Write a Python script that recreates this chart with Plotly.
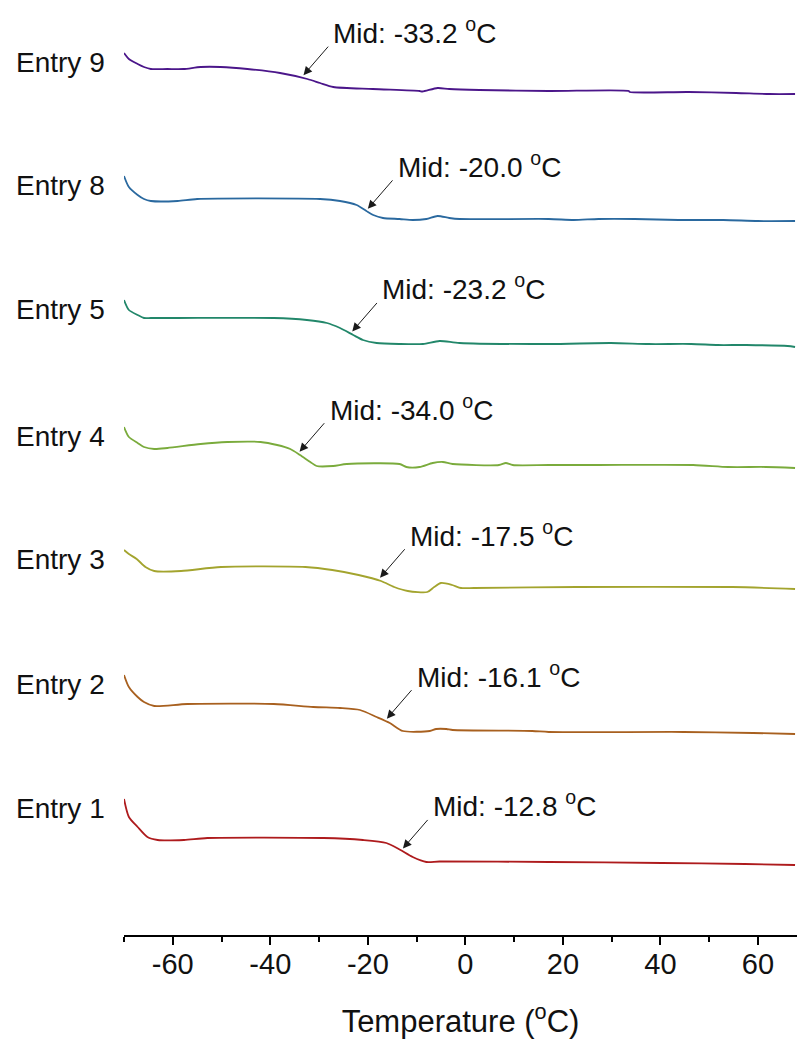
import numpy as np
import plotly.graph_objects as go

# DSC heating traces (temperature in degC, heat flow offset for stacking, a.u.)
entries = ["Entry 9", "Entry 8", "Entry 5", "Entry 4", "Entry 3", "Entry 2", "Entry 1"]
colors = ["#4b168a", "#2a699f", "#22876a", "#7aab3c", "#a3a42e", "#a8601f", "#ae1b1d"]
mid_temps = [-33.2, -20.0, -23.2, -34.0, -17.5, -16.1, -12.8]

t_e9 = [-70.0, -69.0, -67.2, -65.9, -64.5, -61.1, -57.8, -54.3, -50.2, -44.7, -38.0, -32.4,
        -29.8, -27.1, -19.0, -9.4, -8.8, -5.7, -3.3, 2.9, 17.1, 33.5, 33.7, 45.7, 55.5, 62.4, 67.6]
h_e9 = [8.82, 8.76, 8.71, 8.68, 8.66, 8.66, 8.66, 8.68, 8.68, 8.66, 8.62, 8.56,
        8.52, 8.48, 8.46, 8.44, 8.435, 8.47, 8.46, 8.45, 8.44, 8.44, 8.43, 8.43, 8.42, 8.41, 8.41]

t_e8 = [-70.0, -69.0, -67.2, -65.9, -64.5, -59.0, -55.0, -29.8, -25.7, -22.3, -20.3, -18.9,
        -16.9, -13.5, -10.8, -8.0, -5.7, -3.3, -1.2, 17.1, 22.2, 27.3, 34.7, 43.7, 52.9, 60.0, 67.6]
h_e8 = [7.59, 7.48, 7.40, 7.36, 7.34, 7.34, 7.36, 7.36, 7.34, 7.30, 7.24, 7.20,
        7.17, 7.16, 7.15, 7.16, 7.19, 7.17, 7.16, 7.16, 7.15, 7.16, 7.16, 7.15, 7.15, 7.14, 7.14]

t_e5 = [-70.0, -69.0, -67.2, -65.9, -64.5, -59.0, -39.3, -32.5, -28.4, -25.7, -23.0, -21.0,
        -18.2, -13.5, -8.7, -5.3, -1.2, 17.1, 29.8, 37.6, 46.3, 51.8, 57.6, 66.1, 67.6]
h_e5 = [6.35, 6.25, 6.20, 6.17, 6.17, 6.17, 6.17, 6.15, 6.12, 6.07, 6.00, 5.95,
        5.92, 5.91, 5.91, 5.94, 5.92, 5.91, 5.92, 5.91, 5.91, 5.90, 5.90, 5.89, 5.88]

t_e4 = [-70.0, -69.0, -67.2, -65.9, -63.8, -61.1, -54.3, -48.8, -42.0, -38.6, -35.9, -33.9,
        -31.8, -30.5, -27.1, -24.3, -13.5, -12.1, -9.4, -6.7, -4.6, -2.6, 6.9, 8.3, 9.7,
        17.1, 27.3, 46.7, 53.9, 61.6, 67.6]
h_e4 = [5.08, 4.98, 4.92, 4.88, 4.86, 4.87, 4.91, 4.93, 4.93, 4.90, 4.86, 4.80,
        4.73, 4.69, 4.69, 4.71, 4.71, 4.68, 4.68, 4.72, 4.73, 4.71, 4.70, 4.72, 4.70,
        4.70, 4.70, 4.70, 4.68, 4.68, 4.67]

t_e3 = [-70.0, -69.0, -67.4, -65.6, -63.8, -58.3, -50.1, -32.8, -27.3, -21.9, -17.3, -14.6,
        -11.8, -7.8, -6.4, -5.0, -2.7, -0.9, 1.8, 22.8, 54.7, 67.6]
h_e3 = [3.85, 3.81, 3.76, 3.68, 3.64, 3.64, 3.68, 3.68, 3.65, 3.60, 3.54, 3.48,
        3.44, 3.43, 3.48, 3.52, 3.50, 3.47, 3.47, 3.48, 3.48, 3.46]

t_e2 = [-70.0, -69.0, -67.2, -65.9, -63.8, -57.0, -39.3, -31.2, -25.7, -21.6, -18.2, -15.5,
        -12.8, -7.3, -6.0, -3.9, -2.6, 13.7, 17.1, 44.7, 59.0, 67.6]
h_e2 = [2.60, 2.48, 2.38, 2.33, 2.29, 2.31, 2.31, 2.28, 2.27, 2.25, 2.18, 2.12,
        2.04, 2.04, 2.06, 2.06, 2.05, 2.04, 2.03, 2.03, 2.02, 2.01]

t_e1 = [-70.0, -69.0, -67.2, -65.2, -63.1, -57.7, -52.9, -29.1, -21.0, -16.2, -13.5, -10.8,
        -8.0, -5.3, 17.1, 40.3, 57.3, 67.6]
h_e1 = [1.36, 1.18, 1.08, 0.98, 0.95, 0.95, 0.97, 0.97, 0.95, 0.92, 0.855, 0.78,
        0.73, 0.735, 0.73, 0.72, 0.71, 0.70]

temps = [t_e9, t_e8, t_e5, t_e4, t_e3, t_e2, t_e1]
flows = [h_e9, h_e8, h_e5, h_e4, h_e3, h_e2, h_e1]

x_ticks = [-60, -40, -20, 0, 20, 40, 60]

FONT = "Liberation Sans, Arial, sans-serif"
W, H = 797, 1041
PLOT_LEFT = 124.0

fig = go.Figure()
annotations = []
for name, col, mid, t, h in zip(entries, colors, mid_temps, temps, flows):
    fig.add_trace(go.Scatter(x=t, y=h, mode="lines", name=name,
                             line=dict(color=col, width=1.8, shape="spline",
                                       smoothing=0.7),
                             showlegend=False, hoverinfo="skip"))
    y_mid = float(np.interp(mid, t, h)) + 0.03
    # arrow pointing to the glass-transition midpoint
    annotations.append(dict(x=mid, y=y_mid, xref="x", yref="y", text="",
                            showarrow=True, ax=26, ay=-30, arrowhead=2,
                            arrowsize=1.7, arrowwidth=1, arrowcolor="#1a1a1a"))
    annotations.append(dict(x=mid, y=y_mid, xref="x", yref="y",
                            text=f"Mid: {mid:.1f} <sup>o</sup>C", showarrow=False,
                            xanchor="left", yanchor="middle", xshift=28, yshift=44,
                            font=dict(family=FONT, size=28, color="#111111")))
    # trace label on the left
    annotations.append(dict(x=14 / W, y=h[0] - 0.09, xref="paper", yref="y",
                            text=name, showarrow=False, xanchor="left",
                            yanchor="middle",
                            font=dict(family=FONT, size=28, color="#111111")))

fig.update_layout(
    width=W, height=H,
    margin=dict(l=0, r=0, t=0, b=106),
    paper_bgcolor="white", plot_bgcolor="white",
    annotations=annotations,
    xaxis=dict(
        domain=[PLOT_LEFT / W, 1],
        range=[-70, 68.0],
        tickmode="array", tickvals=x_ticks,
        ticktext=[str(v) for v in x_ticks],
        ticks="outside", ticklen=8, tickwidth=1.5, tickcolor="black",
        minor=dict(ticks="outside", ticklen=5, tickwidth=1.5, tickcolor="black",
                   tick0=-70, dtick=10),
        showline=True, linecolor="black", linewidth=1.5,
        showgrid=False, zeroline=False,
        tickfont=dict(family=FONT, size=29, color="#111111"),
        ticklabelstandoff=-6,
        title=dict(text="Temperature (<sup>o</sup>C)", standoff=32,
                   font=dict(family=FONT, size=31, color="#111111")),
        automargin=False,
    ),
    yaxis=dict(range=[0, 9.35], visible=False, showgrid=False, zeroline=False),
)

fig.write_html("out.html")
